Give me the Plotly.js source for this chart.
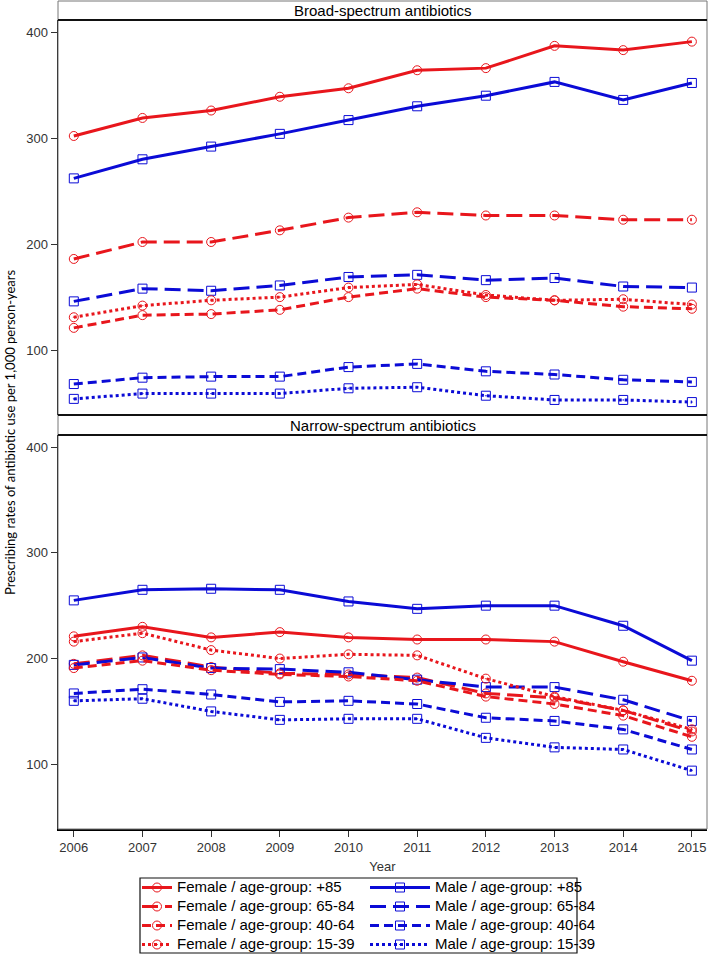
<!DOCTYPE html>
<html>
<head>
<meta charset="utf-8">
<script src="https://cdn.plot.ly/plotly-3.0.1.min.js"></script>
<style>
html,body{margin:0;padding:0;background:#fff;}
#chart{width:709px;height:954px;}
</style>
</head>
<body>
<div id="chart"></div>
<script>
// ---- data ----
const years = [2006, 2007, 2008, 2009, 2010, 2011, 2012, 2013, 2014, 2015];
const panelTitles = ["Broad-spectrum antibiotics", "Narrow-spectrum antibiotics"];
const seriesNames = [
  "Female / age-group: +85", "Male / age-group: +85",
  "Female / age-group: 65-84", "Male / age-group: 65-84",
  "Female / age-group: 40-64", "Male / age-group: 40-64",
  "Female / age-group: 15-39", "Male / age-group: 15-39"
];
// Broad-spectrum
const broadF85 = [302, 319, 326, 339, 347, 364, 366, 387, 383, 391];
const broadM85 = [262, 280, 292, 304, 317, 330, 340, 353, 336, 352];
const broadF65 = [186, 202, 202, 213, 225, 230, 227, 227, 223, 223];
const broadM65 = [146, 158, 156, 161, 169, 171, 166, 168, 160, 159];
const broadF40 = [121, 133, 134, 138, 150, 158, 150, 147, 141, 139];
const broadM40 = [68, 74, 75, 75, 84, 87, 80, 77, 72, 70];
const broadF15 = [131, 142, 147, 150, 159, 162, 152, 147, 148, 143];
const broadM15 = [54, 59, 59, 59, 64, 65, 57, 53, 53, 51];
// Narrow-spectrum
const narrowF85 = [221, 230, 220, 225, 220, 218, 218, 216, 197, 179];
const narrowM85 = [255, 265, 266, 265, 254, 247, 250, 250, 231, 198];
const narrowF65 = [195, 203, 192, 186, 185, 182, 167, 163, 151, 131];
const narrowM65 = [194, 201, 191, 190, 187, 180, 173, 173, 161, 141];
const narrowF40 = [191, 198, 189, 185, 183, 179, 164, 157, 146, 126];
const narrowM40 = [167, 171, 166, 159, 160, 157, 144, 141, 133, 114];
const narrowF15 = [216, 224, 208, 200, 204, 203, 181, 164, 151, 133];
const narrowM15 = [160, 162, 150, 142, 143, 143, 125, 116, 114, 94];
const yTicks = [100, 200, 300, 400];

// ---- styles ----
const RED = '#e8161c', BLUE = '#0b0bd6';
const styles = [
  {c: RED,  dash: 'solid',    sym: 'circle-open',     leg: 'legend'},
  {c: BLUE, dash: 'solid',    sym: 'square-open',     leg: 'legend2'},
  {c: RED,  dash: '16px,7px', sym: 'circle-open',     leg: 'legend'},
  {c: BLUE, dash: '16px,7px', sym: 'square-open',     leg: 'legend2'},
  {c: RED,  dash: '9px,5px',  sym: 'circle-open',     leg: 'legend'},
  {c: BLUE, dash: '9px,5px',  sym: 'square-open',     leg: 'legend2'},
  {c: RED,  dash: '3px,3px',  sym: 'circle-open-dot', leg: 'legend'},
  {c: BLUE, dash: '3px,3px',  sym: 'square-open-dot', leg: 'legend2'}
];
const broadData = [broadF85, broadM85, broadF65, broadM65, broadF40, broadM40, broadF15, broadM15];
const narrowData = [narrowF85, narrowM85, narrowF65, narrowM65, narrowF40, narrowM40, narrowF15, narrowM15];

const traces = [];
function addPanel(dataArr, xa, ya, showLeg) {
  dataArr.forEach((vals, i) => {
    const s = styles[i];
    traces.push({
      type: 'scatter', mode: 'lines+markers',
      x: years, y: vals, xaxis: xa, yaxis: ya,
      name: '<span style="font-size:15px">' + seriesNames[i] + '</span>',
      showlegend: showLeg, legend: s.leg, legendrank: i + 1,
      line: {color: s.c, width: 3, dash: s.dash},
      marker: {symbol: s.sym, size: 9, color: s.c, line: {color: s.c, width: 1}},
      hoverinfo: 'x+y+name'
    });
  });
}
addPanel(broadData, 'x', 'y', true);
addPanel(narrowData, 'x2', 'y2', false);

const H = 954, T = 20, B = 125, L = 58, R = 2, W = 709;
const plotH = H - T - B;               // 809
const plotW = W - L - R;               // 649
const pf = px => (H - B - px) / plotH; // pixel y -> paper y
const px2x = px => (px - L) / plotW;   // pixel x -> paper x
const topDom = [pf(415), 1];
const botDom = [0, pf(435)];
const stripTop = pf(1);

const FONT = 'Liberation Sans, Arial, sans-serif';
const tickFont = {family: FONT, size: 13, color: '#333'};
const yAxisBase = {
  range: [38.8, 411.4], tickvals: yTicks, ticks: 'outside', ticklen: 6, tickwidth: 1,
  tickcolor: '#333', showgrid: false, zeroline: false, showline: true,
  linecolor: '#000', linewidth: 1.5, mirror: false, tickfont: tickFont
};
const legBase = {
  orientation: 'v', xanchor: 'left', y: pf(873), yanchor: 'top',
  borderwidth: 0, bgcolor: 'rgba(0,0,0,0)', traceorder: 'normal', tracegroupgap: 0,
  font: {family: FONT, size: 12, color: '#000'}
};
const layout = {
  width: W, height: H,
  margin: {l: L, r: R, t: T, b: B, autoexpand: false},
  paper_bgcolor: '#fff', plot_bgcolor: '#fff',
  showlegend: true,
  xaxis: {range: [2005.77, 2015.22], showticklabels: false, ticks: '', showgrid: false,
          zeroline: false, showline: false, anchor: 'y', matches: 'x2'},
  yaxis: Object.assign({}, yAxisBase, {domain: topDom, anchor: 'x'}),
  xaxis2: {range: [2005.77, 2015.22], tickvals: years, ticks: 'outside', ticklen: 6,
           tickcolor: '#333', showgrid: false, zeroline: false, showline: true,
           linecolor: '#000', linewidth: 1.5, tickfont: tickFont, anchor: 'y2',
           title: {text: 'Year', font: {family: FONT, size: 13, color: '#333'}, standoff: 8}},
  yaxis2: Object.assign({}, yAxisBase, {domain: botDom, anchor: 'x2'}),
  legend: Object.assign({}, legBase, {x: px2x(137), itemwidth: 30}),
  legend2: Object.assign({}, legBase, {x: px2x(365), itemwidth: 60}),
  shapes: [
    // strips
    {type: 'rect', xref: 'paper', yref: 'paper', x0: 0, x1: 1, y0: 1, y1: stripTop,
     line: {color: '#777', width: 1}, fillcolor: '#fff', layer: 'below'},
    {type: 'rect', xref: 'paper', yref: 'paper', x0: 0, x1: 1, y0: botDom[1], y1: topDom[0],
     line: {color: '#777', width: 1}, fillcolor: '#fff', layer: 'below'},
    // panel frames
    {type: 'rect', xref: 'paper', yref: 'paper', x0: 0, x1: 1, y0: topDom[0], y1: 1,
     line: {color: '#777', width: 1}},
    {type: 'rect', xref: 'paper', yref: 'paper', x0: 0, x1: 1, y0: 0, y1: botDom[1],
     line: {color: '#777', width: 1}},
    // heavy separators
    {type: 'line', xref: 'paper', yref: 'paper', x0: 0, x1: 1, y0: 1, y1: 1, line: {color: '#111', width: 2}},
    {type: 'line', xref: 'paper', yref: 'paper', x0: 0, x1: 1, y0: topDom[0], y1: topDom[0], line: {color: '#111', width: 2}},
    {type: 'line', xref: 'paper', yref: 'paper', x0: 0, x1: 1, y0: botDom[1], y1: botDom[1], line: {color: '#111', width: 2}},
    // legend frame
    {type: 'rect', xref: 'paper', yref: 'paper', x0: px2x(140), x1: px2x(577), y0: pf(953), y1: pf(878),
     line: {color: '#111', width: 1.2}}
  ],
  annotations: [
    {xref: 'paper', yref: 'paper', x: 0.5, y: (1 + stripTop) / 2, text: panelTitles[0], showarrow: false,
     xanchor: 'center', yanchor: 'middle', font: {family: FONT, size: 15, color: '#000'}},
    {xref: 'paper', yref: 'paper', x: 0.5, y: (botDom[1] + topDom[0]) / 2, text: panelTitles[1], showarrow: false,
     xanchor: 'center', yanchor: 'middle', font: {family: FONT, size: 15, color: '#000'}},
    {xref: 'paper', yref: 'paper', x: px2x(10), y: pf(432), text: 'Prescribing rates of antibiotic use per 1,000 person-years',
     showarrow: false, textangle: -90, xanchor: 'center', yanchor: 'middle',
     font: {family: 'Lato, Carlito, sans-serif', size: 13, color: '#000'}}
  ]
};
Plotly.newPlot('chart', traces, layout, {displayModeBar: false, staticPlot: true});
</script>
</body>
</html>
